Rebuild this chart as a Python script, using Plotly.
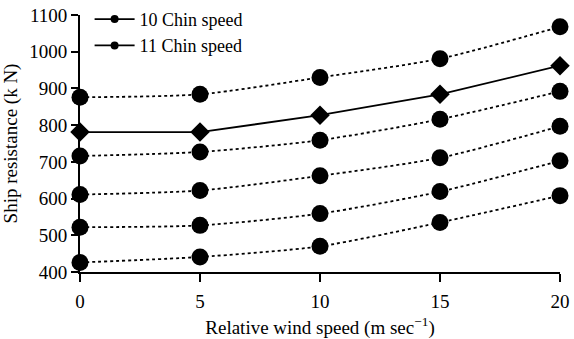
import plotly.graph_objects as go

wind = [0, 5, 10, 15, 20]
s1 = [876, 884, 930, 981, 1068]
s2 = [781, 781, 827, 884, 962]   # solid, diamonds
s3 = [716, 727, 759, 816, 892]
s4 = [611, 622, 662, 711, 797]
s5 = [522, 527, 559, 619, 703]
s6 = [426, 441, 470, 535, 608]
legend_names = ["10 Chin speed", "11 Chin speed"]
x_ticks = [0, 5, 10, 15, 20]
y_ticks = [400, 500, 600, 700, 800, 900, 1000, 1100]

FONT = "Liberation Serif"
fig = go.Figure()

for ys in [s1, s3, s4, s5, s6]:
    fig.add_trace(go.Scatter(
        x=wind, y=ys, mode="lines+markers", showlegend=False, cliponaxis=False,
        line=dict(color="black", width=1.8, dash="dot", shape="spline", smoothing=0.7),
        marker=dict(symbol="circle", size=17, color="black")))

fig.add_trace(go.Scatter(
    x=wind, y=s2, mode="lines+markers", showlegend=False, cliponaxis=False,
    line=dict(color="black", width=1.8),
    marker=dict(symbol="diamond", size=15, color="black")))

for nm in legend_names:
    fig.add_trace(go.Scatter(
        x=[None], y=[None], mode="lines+markers", name=nm,
        line=dict(color="black", width=1.8),
        marker=dict(symbol="circle", size=8, color="black")))

fig.update_layout(
    width=574, height=339,
    margin=dict(l=80, r=14, t=15, b=67, autoexpand=False),
    paper_bgcolor="white", plot_bgcolor="white",
    font=dict(family=FONT, size=19, color="black"),
    showlegend=True,
    legend=dict(x=0.02, y=1.055, xanchor="left", yanchor="top",
                bgcolor="rgba(0,0,0,0)", font=dict(family=FONT, size=18),
                tracegroupgap=0, itemwidth=40),
    xaxis=dict(range=[0, 20], tickvals=x_ticks, showgrid=False, zeroline=False,
               showline=True, linecolor="black", linewidth=2,
               ticks="outside", ticklen=8, tickwidth=2, tickcolor="black",
               ticklabelstandoff=3,
               tickfont=dict(family=FONT, size=19),
               title=dict(text="Relative wind speed (m sec<sup>−1</sup>)", standoff=14,
                          font=dict(family=FONT, size=19))),
    yaxis=dict(range=[400, 1100], tickvals=y_ticks, showgrid=False, zeroline=False,
               showline=True, linecolor="black", linewidth=2,
               ticks="outside", ticklen=7, tickwidth=2, tickcolor="black",
               tickfont=dict(family=FONT, size=19),
               title=dict(text="Ship resistance (k N)", standoff=8,
                          font=dict(family=FONT, size=19))),
)

fig.write_html("out.html")
